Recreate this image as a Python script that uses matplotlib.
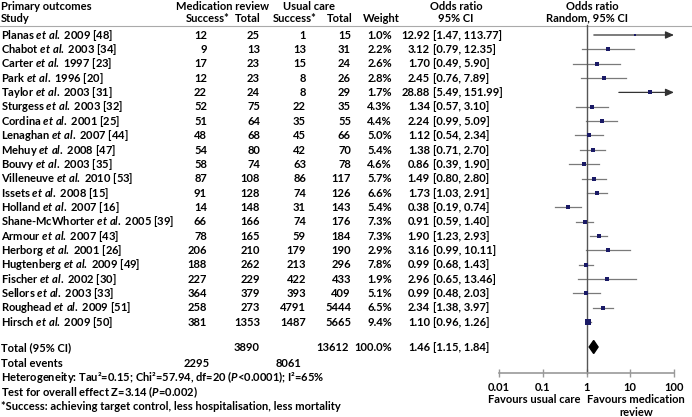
import matplotlib
matplotlib.use("Agg")
import matplotlib.pyplot as plt
from matplotlib.patches import Polygon

plt.rcParams["font.family"] = ["Lato", "DejaVu Sans"]
plt.rcParams["font.weight"] = "bold"
plt.rcParams["mathtext.fontset"] = "custom"
plt.rcParams["mathtext.rm"] = "Lato:bold"
plt.rcParams["mathtext.it"] = "Lato:italic:bold"

# data
studies = ["Planas", "Chabot", "Carter", "Park", "Taylor", "Sturgess", "Cordina",
           "Lenaghan", "Mehuy", "Bouvy", "Villeneuve", "Issets", "Holland",
           "Shane-McWhorter", "Armour", "Herborg", "Hugtenberg", "Fischer",
           "Sellors", "Roughead", "Hirsch"]
years = [2009, 2003, 1997, 1996, 2003, 2003, 2001, 2007, 2008, 2003, 2010,
         2008, 2007, 2005, 2007, 2001, 2009, 2002, 2003, 2009, 2009]
refs = [48, 34, 23, 20, 31, 32, 25, 44, 47, 35, 53, 15, 16, 39, 43, 26, 49,
        30, 33, 51, 50]
med_success = [12, 9, 17, 12, 22, 52, 51, 48, 54, 58, 87, 91, 14, 66, 78,
               206, 188, 227, 364, 258, 381]
med_total = [25, 13, 23, 23, 24, 75, 64, 68, 80, 74, 108, 128, 148, 166, 165,
             210, 262, 229, 379, 273, 1353]
uc_success = [1, 13, 15, 8, 8, 22, 35, 45, 42, 63, 86, 74, 31, 74, 59, 179,
              213, 422, 393, 4791, 1487]
uc_total = [15, 31, 24, 26, 29, 35, 55, 66, 70, 78, 117, 126, 143, 176, 184,
            190, 296, 433, 409, 5444, 5665]
weights = [1.0, 2.2, 2.6, 2.8, 1.7, 4.3, 4.4, 5.0, 5.4, 4.6, 5.7, 6.6, 5.4,
           7.3, 7.3, 2.9, 7.8, 1.9, 5.1, 6.5, 9.4]
odds = [12.92, 3.12, 1.70, 2.45, 28.88, 1.34, 2.24, 1.12, 1.38, 0.86, 1.49,
        1.73, 0.38, 0.91, 1.90, 3.16, 0.99, 2.96, 0.99, 2.34, 1.10]
ci_lo = [1.47, 0.79, 0.49, 0.76, 5.49, 0.57, 0.99, 0.54, 0.71, 0.39, 0.80,
         1.03, 0.19, 0.59, 1.23, 0.99, 0.68, 0.65, 0.48, 1.38, 0.96]
ci_hi = [113.77, 12.35, 5.90, 7.89, 151.99, 3.10, 5.09, 2.34, 2.70, 1.90,
         2.80, 2.91, 0.74, 1.40, 2.93, 10.11, 1.43, 13.46, 2.03, 3.97, 1.26]

total_med, total_uc = 3890, 13612
events_med, events_uc = 2295, 8061
pooled = (1.46, 1.15, 1.84)
ticks = [0.01, 0.1, 1, 10, 100]
tick_labels = ["0.01", "0.1", "1", "10", "100"]

W, H = 692, 417
FS = 8
fig = plt.figure(figsize=(W / 100, H / 100), dpi=100)

# text layer in pixel coordinates
ax = fig.add_axes([0, 0, 1, 1])
ax.set_xlim(0, W)
ax.set_ylim(H, 0)
ax.axis("off")

# forest layer
x0, x1 = 499, 674
axf = fig.add_axes([x0 / W, 0, (x1 - x0) / W, 1])
axf.set_xscale("log")
axf.set_xlim(0.01, 100)
axf.set_ylim(H, 0)
axf.patch.set_visible(False)
for s in ["top", "left", "right"]:
    axf.spines[s].set_visible(False)
axf.spines["bottom"].set_position(("data", 373))
axf.spines["bottom"].set_color("#999999")
axf.spines["bottom"].set_linewidth(1.2)
axf.set_yticks([])
axf.set_xticks(ticks, tick_labels)
axf.minorticks_off()
axf.tick_params(axis="x", direction="inout", length=6, width=1,
                color="#999999", pad=3.2, labelsize=FS)


def txt(x, y, s, ha="left", **kw):
    ax.text(x, y + 3.7, s, ha=ha, va="baseline", fontsize=FS, **kw)


# header
txt(1, 6, "Primary outcomes")
txt(1, 18, "Study")
txt(222, 6, "Medication review", ha="center")
txt(309, 6, "Usual care", ha="center")
txt(208, 18, "Success*", ha="center")
txt(248, 18, "Total", ha="center")
txt(295, 18, "Success*", ha="center")
txt(340, 18, "Total", ha="center")
txt(381, 18, "Weight", ha="center")
txt(456, 6, "Odds ratio", ha="center")
txt(456, 18, "95% CI", ha="center")
txt(592, 6, "Odds ratio", ha="center")
txt(587, 18, "Random, 95% CI", ha="center")
ax.plot([0, W], [26, 26], color="#aaaaaa", lw=0.8)

y_first, step = 35, 14.35
marker_col = "#1a1a66"
for i, name in enumerate(studies):
    y = y_first + i * step
    txt(1, y, f"{name} $\\mathit{{et\\ al.}}$ {years[i]} [{refs[i]}]")
    txt(207, y, str(med_success[i]), ha="right")
    txt(260, y, str(med_total[i]), ha="right")
    txt(306, y, str(uc_success[i]), ha="right")
    txt(351, y, str(uc_total[i]), ha="right")
    txt(392, y, f"{weights[i]:.1f}%", ha="right")
    txt(430, y, f"{odds[i]:.2f}", ha="right")
    txt(433, y, f"[{ci_lo[i]:.2f}, {ci_hi[i]:.2f}]")

    # confidence interval
    if ci_hi[i] > 100:
        axf.annotate("", xy=(100, y), xytext=(ci_lo[i], y),
                     arrowprops=dict(arrowstyle="-|>,head_length=0.5,head_width=0.22",
                                     color="#333333", lw=0.9,
                                     shrinkA=0, shrinkB=0),
                     annotation_clip=False)
    else:
        axf.plot([ci_lo[i], ci_hi[i]], [y, y], color="#7a7a7a", lw=0.9,
                 clip_on=False)
    side = 2.6 + 0.3 * weights[i]
    axf.plot(odds[i], y, marker="s", ms=side / 1.389, color=marker_col,
             mec=marker_col, mew=0, clip_on=False, zorder=3)

# line of no effect
axf.plot([1, 1], [25, 373], color="#555555", lw=1, clip_on=False)

# totals
y_tot = 347
txt(1, y_tot, "Total (95% CI)")
txt(260, y_tot, str(total_med), ha="right")
txt(349, y_tot, str(total_uc), ha="right")
txt(392, y_tot, "100.0%", ha="right")
txt(430, y_tot, f"{pooled[0]:.2f}", ha="right")
txt(433, y_tot, f"[{pooled[1]:.2f}, {pooled[2]:.2f}]")
diamond = Polygon([(pooled[1], y_tot), (pooled[0], y_tot - 6.5),
                   (pooled[2], y_tot), (pooled[0], y_tot + 6.5)],
                  closed=True, color="black", clip_on=False, zorder=4)
axf.add_patch(diamond)

txt(1, 363, "Total events")
txt(210, 363, str(events_med), ha="right")
txt(302, 363, str(events_uc), ha="right")
txt(1, 377, "Heterogeneity: Tau²=0.15; Chi²=57.94, df=20 ($\\mathit{P}$<0.0001); I²=65%")
txt(1, 392, "Test for overall effect Z=3.14 ($\\mathit{P}$=0.002)")
txt(1, 406, "*Success: achieving target control, less hospitalisation, less mortality")

txt(534, 399.5, "Favours usual care", ha="center")
txt(636, 399.5, "Favours medication", ha="center")
txt(636, 412.5, "review", ha="center")

fig.savefig("out.png", dpi=100, facecolor="white")
